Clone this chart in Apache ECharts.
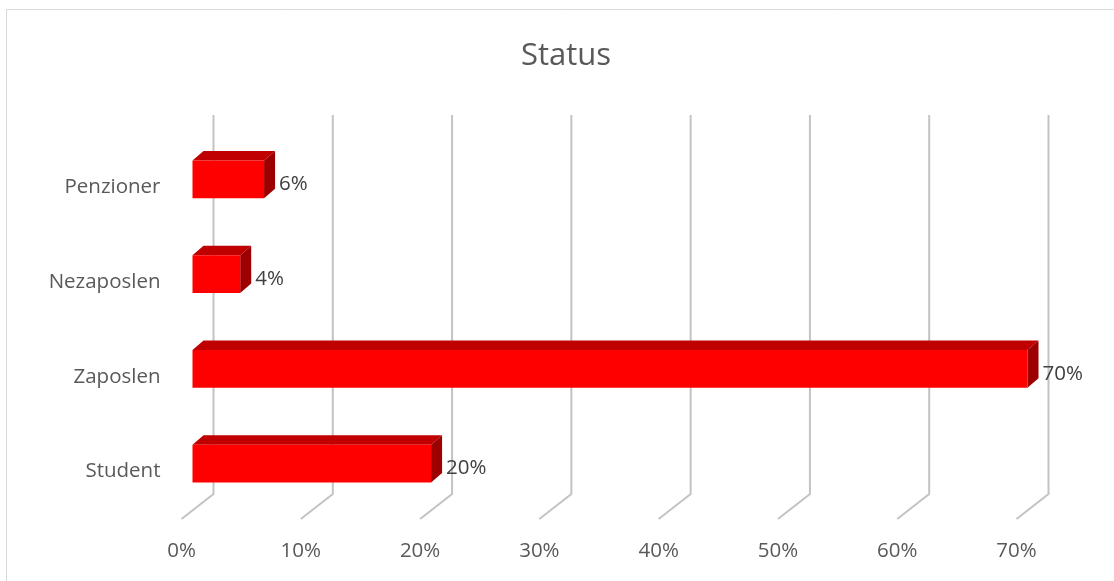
<!DOCTYPE html>
<html>
<head>
<meta charset="utf-8">
<title>Status</title>
<script src="https://cdn.jsdelivr.net/npm/echarts@6/dist/echarts.min.js"></script>
<style>
  html, body { margin: 0; padding: 0; background: #ffffff; }
  #chart { width: 1114px; height: 581px; }
</style>
</head>
<body>
<div id="chart"></div>
<script>
// Categories listed bottom to top (category axis runs upward)
const categories = ['Student', 'Zaposlen', 'Nezaposlen', 'Penzioner'];
const shares = [0.20, 0.70, 0.04, 0.06];
const tickValues = [0, 0.1, 0.2, 0.3, 0.4, 0.5, 0.6, 0.7];

const FONT = '"Open Sans", "Noto Sans", sans-serif';
const TEXT = '#595959';

// Pseudo-3D geometry: wall depth and bar depth, in pixels
const WALL_DX = 32, WALL_DY = -25;
const BAR_FRONT_DX = 11, BAR_FRONT_DY = -8;
const BAR_DX = 11, BAR_DY = -9.5;

const pct = v => Math.round(v * 100) + '%';

const chart = echarts.init(document.getElementById('chart'), null, { renderer: 'canvas' });

function renderGridLine(params, api) {
  const cs = params.coordSys;
  const x = api.coord([api.value(0), 0])[0];
  const bottom = cs.y + cs.height;
  const top = cs.y;
  return {
    type: 'polyline',
    shape: {
      points: [
        [x + WALL_DX, top + WALL_DY],
        [x + WALL_DX, bottom + WALL_DY],
        [x, bottom]
      ]
    },
    style: { stroke: '#c3c3c3', lineWidth: 2, fill: null },
    silent: true
  };
}

function renderBar(params, api) {
  const idx = api.value(0);
  const val = api.value(1);
  const x0 = api.coord([0, idx])[0];
  const p = api.coord([val, idx]);
  const x1 = p[0];
  const yc = p[1];
  const h = api.size([0, 1])[1] * 0.40;

  const fx0 = x0 + BAR_FRONT_DX;
  const fx1 = x1 + BAR_FRONT_DX;
  const top = yc + BAR_FRONT_DY - h / 2;
  const bot = top + h;

  return {
    type: 'group',
    children: [
      {
        type: 'polygon',
        shape: { points: [[fx0, top], [fx1, top], [fx1 + BAR_DX, top + BAR_DY], [fx0 + BAR_DX, top + BAR_DY]] },
        style: { fill: '#c00000' }
      },
      {
        type: 'polygon',
        shape: { points: [[fx1, top], [fx1 + BAR_DX, top + BAR_DY], [fx1 + BAR_DX, bot + BAR_DY], [fx1, bot]] },
        style: { fill: '#9c0000' }
      },
      {
        type: 'rect',
        shape: { x: fx0, y: top, width: fx1 - fx0, height: h },
        style: { fill: '#ff0000' }
      },
      {
        type: 'text',
        style: {
          text: pct(val),
          x: fx1 + BAR_DX + 4,
          y: yc - 3,
          align: 'left',
          verticalAlign: 'middle',
          fill: '#404040',
          font: '20.5px ' + FONT
        }
      }
    ]
  };
}

chart.setOption({
  backgroundColor: '#ffffff',
  animation: false,
  title: {
    text: 'Status',
    left: 561,
    top: 36,
    textAlign: 'center',
    textStyle: { color: TEXT, fontSize: 31, fontWeight: 'normal', fontFamily: FONT }
  },
  graphic: [{
    type: 'rect',
    shape: { x: 6.5, y: 9.5, width: 1200, height: 700 },
    style: { fill: null, stroke: '#d9d9d9', lineWidth: 1 },
    silent: true,
    z: -10
  }],
  grid: { left: 181.5, top: 140, width: 835, height: 379, containLabel: false },
  xAxis: {
    type: 'value',
    min: 0,
    max: 0.7,
    interval: 0.1,
    axisLine: { show: false },
    axisTick: { show: false },
    splitLine: { show: false },
    axisLabel: {
      formatter: v => pct(v),
      color: TEXT,
      fontSize: 20.5,
      fontFamily: FONT,
      margin: 22
    }
  },
  yAxis: {
    type: 'category',
    data: categories,
    axisLine: { show: false },
    axisTick: { show: false },
    splitLine: { show: false },
    axisLabel: { color: TEXT, fontSize: 20.5, fontFamily: FONT, margin: 21, padding: [4, 0, 0, 0] }
  },
  series: [
    {
      type: 'custom',
      name: 'gridlines',
      z: 1,
      renderItem: renderGridLine,
      data: tickValues.map(v => [v]),
      encode: { x: 0 },
      silent: true
    },
    {
      type: 'custom',
      name: 'Status',
      z: 2,
      renderItem: renderBar,
      data: shares.map((v, i) => [i, v]),
      encode: { y: 0, x: 1 }
    }
  ]
});
</script>
</body>
</html>
